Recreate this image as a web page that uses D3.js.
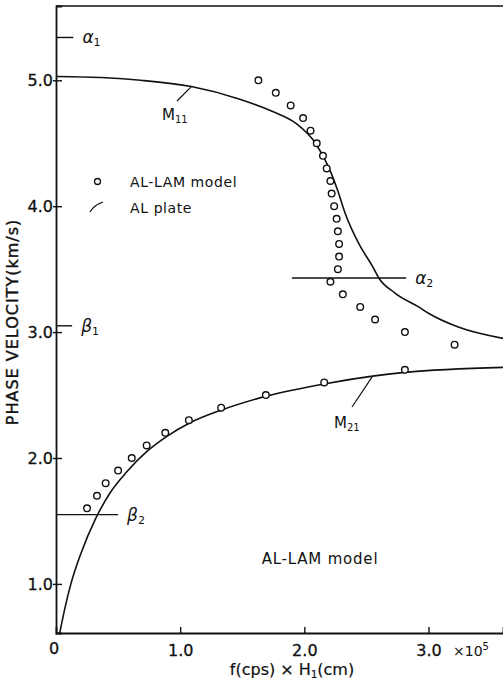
<!DOCTYPE html>
<html><head><meta charset="utf-8">
<script src="https://cdn.jsdelivr.net/npm/d3@7"></script>
<style>body{margin:0;background:#fff}svg{display:block}text{font-family:"DejaVu Sans",sans-serif;fill:#111}</style>
</head><body>
<svg id="c" width="503" height="681"></svg>
<script>
// ---- data ----
const xTicks = [1.0, 2.0, 3.0];
const xTickLabels = ["1.0", "2.0", "3.0"];
const yTicks = [1.0, 2.0, 3.0, 4.0, 5.0];
const yTickLabels = ["1.0", "2.0", "3.0", "4.0", "5.0"];
// AL plate dispersion curves
const m11CurveX = [0.0, 0.4, 0.68, 1.09, 1.48, 1.75, 1.93, 2.09, 2.2, 2.27, 2.33, 2.44, 2.55, 2.6, 2.73, 2.92, 3.0, 3.24, 3.6];
const m11CurveY = [5.03, 5.02, 5.0, 4.95, 4.85, 4.75, 4.66, 4.5, 4.3, 4.12, 3.94, 3.7, 3.52, 3.43, 3.31, 3.2, 3.15, 3.04, 2.95];
const m21CurveX = [0.03, 0.07, 0.12, 0.2, 0.32, 0.44, 0.57, 0.73, 0.89, 1.08, 1.33, 1.69, 2.17, 2.55, 2.81, 3.6];
const m21CurveY = [0.61, 0.8, 1.0, 1.24, 1.52, 1.73, 1.89, 2.05, 2.17, 2.28, 2.38, 2.49, 2.59, 2.65, 2.68, 2.72];
// AL-LAM model points
const m11PtsX = [1.63, 1.77, 1.89, 1.99, 2.05, 2.10, 2.15, 2.18, 2.21, 2.22, 2.24, 2.26, 2.27, 2.28, 2.28, 2.27, 2.21, 2.31, 2.45, 2.57, 2.81, 3.21];
const m11PtsY = [5.0, 4.9, 4.8, 4.7, 4.6, 4.5, 4.4, 4.3, 4.2, 4.1, 4.0, 3.9, 3.8, 3.7, 3.6, 3.5, 3.4, 3.3, 3.2, 3.1, 3.0, 2.9];
const m21PtsX = [0.25, 0.33, 0.40, 0.50, 0.61, 0.73, 0.88, 1.07, 1.33, 1.69, 2.16, 2.81];
const m21PtsY = [1.6, 1.7, 1.8, 1.9, 2.0, 2.1, 2.2, 2.3, 2.4, 2.5, 2.6, 2.7];
// reference velocities
const refNames = ["α", "β", "β", "α"];
const refSubs = ["1", "1", "2", "2"];
const refValues = [5.34, 3.05, 1.55, 3.43];
const refX0 = [0, 0, 0, 1.90];
const refX1 = [0.14, 0.13, 0.50, 2.82];

// ---- scales ----
const svg = d3.select("#c");
const x = d3.scaleLinear().domain([0, 3.6]).range([56, 503]);
const y = d3.scaleLinear().domain([0.61, 5.59]).range([633, 6]);

// frame: top border
svg.append("line").attr("x1", x(0)).attr("x2", 503).attr("y1", y(5.59)).attr("y2", y(5.59))
  .attr("stroke", "#111").attr("stroke-width", 1.6);

// axes
const xAxis = d3.axisBottom(x).tickValues(xTicks).tickFormat((d, i) => xTickLabels[i]).tickSize(-6).tickPadding(12);
const gx = svg.append("g").attr("transform", `translate(0,${y(0.61)})`).call(xAxis);
gx.select(".domain").attr("stroke", "#111").attr("stroke-width", 1.8);
gx.selectAll(".tick line").attr("stroke", "#111").attr("stroke-width", 1.4);
gx.selectAll(".tick text").attr("font-size", 16).attr("fill", "#111").attr("stroke", "#111").attr("stroke-width", 0.3);

const yAxis = d3.axisLeft(y).tickValues(yTicks).tickFormat((d, i) => yTickLabels[i]).tickSize(-6).tickPadding(3);
const gy = svg.append("g").attr("transform", `translate(${x(0)},0)`).call(yAxis);
gy.select(".domain").attr("stroke", "#111").attr("stroke-width", 1.8);
gy.selectAll(".tick line").attr("stroke", "#111").attr("stroke-width", 1.4).attr("x1", -3);
gy.selectAll(".tick text").attr("font-size", 16).attr("fill", "#111").attr("stroke", "#111").attr("stroke-width", 0.3);

// "0" at origin
svg.append("text").attr("x", x(0) - 2).attr("y", y(0.61) + 21).attr("text-anchor", "middle")
  .attr("font-size", 16).attr("stroke", "#111").attr("stroke-width", 0.3).text("0");
// x10^5
const t5 = svg.append("text").attr("x", 453).attr("y", 656).attr("font-size", 14);
t5.append("tspan").text("×10");
t5.append("tspan").attr("dy", -6).attr("font-size", 10).text("5");

// axis titles
const xt = svg.append("text").attr("x", 292).attr("y", 675).attr("text-anchor", "middle").attr("font-size", 16)
  .attr("stroke", "#111").attr("stroke-width", 0.2);
xt.append("tspan").text("f(cps) × H");
xt.append("tspan").attr("font-size", 10).attr("dy", 3).text("1");
xt.append("tspan").attr("dy", -3).text("(cm)");
svg.append("text").attr("transform", "translate(18,322) rotate(-90)").attr("text-anchor", "middle")
  .attr("font-size", 16).attr("letter-spacing", 1).attr("stroke", "#111").attr("stroke-width", 0.4)
  .text("PHASE VELOCITY(km/s)");

// curves
const line = d3.line().x(d => x(d[0])).y(d => y(d[1])).curve(d3.curveMonotoneX);
svg.append("path").datum(d3.zip(m11CurveX, m11CurveY)).attr("d", line)
  .attr("fill", "none").attr("stroke", "#111").attr("stroke-width", 1.6);
svg.append("path").datum(d3.zip(m21CurveX, m21CurveY)).attr("d", line)
  .attr("fill", "none").attr("stroke", "#111").attr("stroke-width", 1.6);

// points
const pts = d3.zip(m11PtsX, m11PtsY).concat(d3.zip(m21PtsX, m21PtsY));
svg.append("g").selectAll("circle").data(pts).join("circle")
  .attr("cx", d => x(d[0])).attr("cy", d => y(d[1])).attr("r", 3.3)
  .attr("fill", "#fff").attr("stroke", "#111").attr("stroke-width", 1.4);

// reference velocity lines
refValues.forEach((v, i) => {
  svg.append("line").attr("x1", x(refX0[i])).attr("x2", x(refX1[i])).attr("y1", y(v)).attr("y2", y(v))
    .attr("stroke", "#111").attr("stroke-width", 1.4);
  const t = svg.append("text").attr("x", x(refX1[i]) + 9).attr("y", y(v) + 6)
    .attr("font-size", 17).attr("font-style", "italic");
  t.append("tspan").text(refNames[i]);
  t.append("tspan").attr("font-size", 11).attr("dy", 3).attr("font-style", "normal").text(refSubs[i]);
});

// curve labels with leaders
svg.append("line").attr("x1", x(1.09)).attr("y1", y(4.95)).attr("x2", 177).attr("y2", 101)
  .attr("stroke", "#111").attr("stroke-width", 1.2);
const l11 = svg.append("text").attr("x", 162).attr("y", 120).attr("font-size", 15);
l11.append("tspan").text("M");
l11.append("tspan").attr("font-size", 10).attr("dy", 3).text("11");
svg.append("line").attr("x1", x(2.55)).attr("y1", y(2.65)).attr("x2", 352).attr("y2", 407)
  .attr("stroke", "#111").attr("stroke-width", 1.2);
const l21 = svg.append("text").attr("x", 334).attr("y", 428).attr("font-size", 15);
l21.append("tspan").text("M");
l21.append("tspan").attr("font-size", 10).attr("dy", 3).text("21");

// legend
svg.append("circle").attr("cx", 97.5).attr("cy", 181.5).attr("r", 3).attr("fill", "#fff")
  .attr("stroke", "#111").attr("stroke-width", 1.3);
svg.append("text").attr("x", 130).attr("y", 187).attr("font-size", 14).attr("letter-spacing", 0.6).text("AL-LAM model");
svg.append("path").attr("d", "M90,212 Q94,205 103,202").attr("fill", "none").attr("stroke", "#111").attr("stroke-width", 1.3);
svg.append("text").attr("x", 130).attr("y", 213).attr("font-size", 14).attr("letter-spacing", 0.6).text("AL plate");

// model caption
svg.append("text").attr("x", 320).attr("y", 564).attr("text-anchor", "middle").attr("font-size", 15)
  .attr("letter-spacing", 0.8).text("AL-LAM model");
</script>
</body></html>
